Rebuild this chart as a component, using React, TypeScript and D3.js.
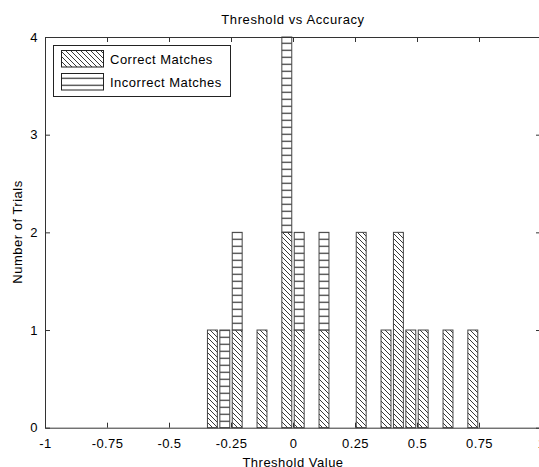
import React, { useRef, useEffect } from 'react';
import { select, scaleLinear, axisBottom, axisTop, axisLeft, axisRight } from 'd3';

// histogram bin centres (threshold value) and counts per bin
const binCenters = [-0.325, -0.275, -0.225, -0.125, -0.025, 0.025, 0.125, 0.275, 0.375, 0.425, 0.475, 0.525, 0.625, 0.725];
const correctCounts = [1, 0, 1, 1, 2, 1, 1, 2, 1, 2, 1, 1, 1, 1];
const incorrectCounts = [0, 1, 1, 0, 2, 1, 1, 0, 0, 0, 0, 0, 0, 0];
const xTicks = [-1, -0.75, -0.5, -0.25, 0, 0.25, 0.5, 0.75, 1];
const yTicks = [0, 1, 2, 3, 4];
const seriesNames = ['Correct Matches', 'Incorrect Matches'];

const W = 539;
const H = 467;
const left = 45, right = 541, top = 37, bottom = 427.7;
const FONT = '"Liberation Sans", Arial, sans-serif';

export default function App() {
  const svgRef = useRef<SVGSVGElement>(null);

  useEffect(() => {
    const svg = select(svgRef.current);
    svg.selectAll('*').remove();

    const x = scaleLinear().domain([-1, 1]).range([left, right]);
    const y = scaleLinear().domain([0, 4]).range([bottom, top]);
    const barW = x(0.04) - x(0);

    // hatch patterns
    const defs = svg.append('defs');
    const diag = defs.append('pattern').attr('id', 'diag')
      .attr('patternUnits', 'userSpaceOnUse').attr('width', 5).attr('height', 5);
    diag.append('rect').attr('width', 5).attr('height', 5).attr('fill', '#fff');
    diag.append('path').attr('d', 'M-1,-1L6,6M-1,4L1,6M4,-1L6,1')
      .attr('stroke', '#222').attr('stroke-width', 0.9);

    const horiz = defs.append('pattern').attr('id', 'horiz')
      .attr('patternUnits', 'userSpaceOnUse').attr('width', 10).attr('height', 7)
      .attr('y', bottom);
    horiz.append('rect').attr('width', 10).attr('height', 7).attr('fill', '#fff');
    horiz.append('path').attr('d', 'M0,0.5H10').attr('stroke', '#222').attr('stroke-width', 1.2);

    const plot = svg.append('g');

    // stacked bars: correct on the bottom, incorrect on top
    binCenters.forEach((c, i) => {
      const a = correctCounts[i];
      const b = incorrectCounts[i];
      if (a > 0) {
        plot.append('rect')
          .attr('x', x(c) - barW / 2).attr('width', barW)
          .attr('y', y(a)).attr('height', y(0) - y(a))
          .attr('fill', 'url(#diag)').attr('stroke', '#444').attr('stroke-width', 1);
      }
      if (b > 0) {
        plot.append('rect')
          .attr('x', x(c) - barW / 2).attr('width', barW)
          .attr('y', y(a + b)).attr('height', y(a) - y(a + b))
          .attr('fill', 'url(#horiz)').attr('stroke', '#444').attr('stroke-width', 1);
      }
    });

    const fmt = (d: any) => String(d);
    const styleAxis = (g: any) => {
      g.attr('font-family', FONT).attr('font-size', 13);
      g.selectAll('text').attr('fill', '#000').style('letter-spacing', '0.4px');
      g.selectAll('line').attr('stroke', '#333');
      g.select('.domain').attr('stroke', '#333');
    };

    svg.append('g').attr('transform', `translate(0,${bottom})`)
      .call(axisBottom(x).tickValues(xTicks).tickFormat(fmt).tickSizeInner(-5).tickSizeOuter(0).tickPadding(11))
      .call(styleAxis);
    svg.append('g').attr('transform', `translate(0,${top})`)
      .call(axisTop(x).tickValues(xTicks).tickFormat(() => '').tickSizeInner(-5).tickSizeOuter(0))
      .call(styleAxis);
    svg.append('g').attr('transform', `translate(${left},0)`)
      .call(axisLeft(y).tickValues(yTicks).tickFormat(fmt).tickSizeInner(-5).tickSizeOuter(0).tickPadding(7))
      .call(styleAxis);
    svg.append('g').attr('transform', `translate(${right},0)`)
      .call(axisRight(y).tickValues(yTicks).tickFormat(() => '').tickSizeInner(-5).tickSizeOuter(0))
      .call(styleAxis);

    // title and axis labels
    svg.append('text').attr('x', (left + right) / 2).attr('y', 23.5)
      .attr('text-anchor', 'middle').attr('font-family', FONT).attr('font-size', 13)
      .style('letter-spacing', '0.6px').text('Threshold vs Accuracy');
    svg.append('text').attr('x', (left + right) / 2).attr('y', 467)
      .attr('text-anchor', 'middle').attr('font-family', FONT).attr('font-size', 13)
      .style('letter-spacing', '0.5px').text('Threshold Value');
    svg.append('text').attr('transform', `translate(22,232) rotate(-90)`)
      .attr('text-anchor', 'middle').attr('font-family', FONT).attr('font-size', 13)
      .style('letter-spacing', '0.5px').text('Number of Trials');

    // legend
    const lg = svg.append('g');
    lg.append('rect').attr('x', 53.5).attr('y', 45.5).attr('width', 177).attr('height', 51)
      .attr('fill', '#fff').attr('stroke', '#222').attr('stroke-width', 1);
    const fills = ['url(#diag)', 'url(#horiz)'];
    seriesNames.forEach((name, i) => {
      const yy = 50.5 + i * 23;
      lg.append('rect').attr('x', 61.5).attr('y', yy).attr('width', 42).attr('height', 16.5)
        .attr('fill', fills[i]).attr('stroke', '#222').attr('stroke-width', 1);
      lg.append('text').attr('x', 110).attr('y', yy + 13)
        .attr('font-family', FONT).attr('font-size', 13)
        .style('letter-spacing', '0.5px').text(name);
    });
  }, []);

  return (
    <svg ref={svgRef} width={W} height={H}
      style={{ position: 'absolute', left: 0, top: 0, background: '#fff' }} />
  );
}
